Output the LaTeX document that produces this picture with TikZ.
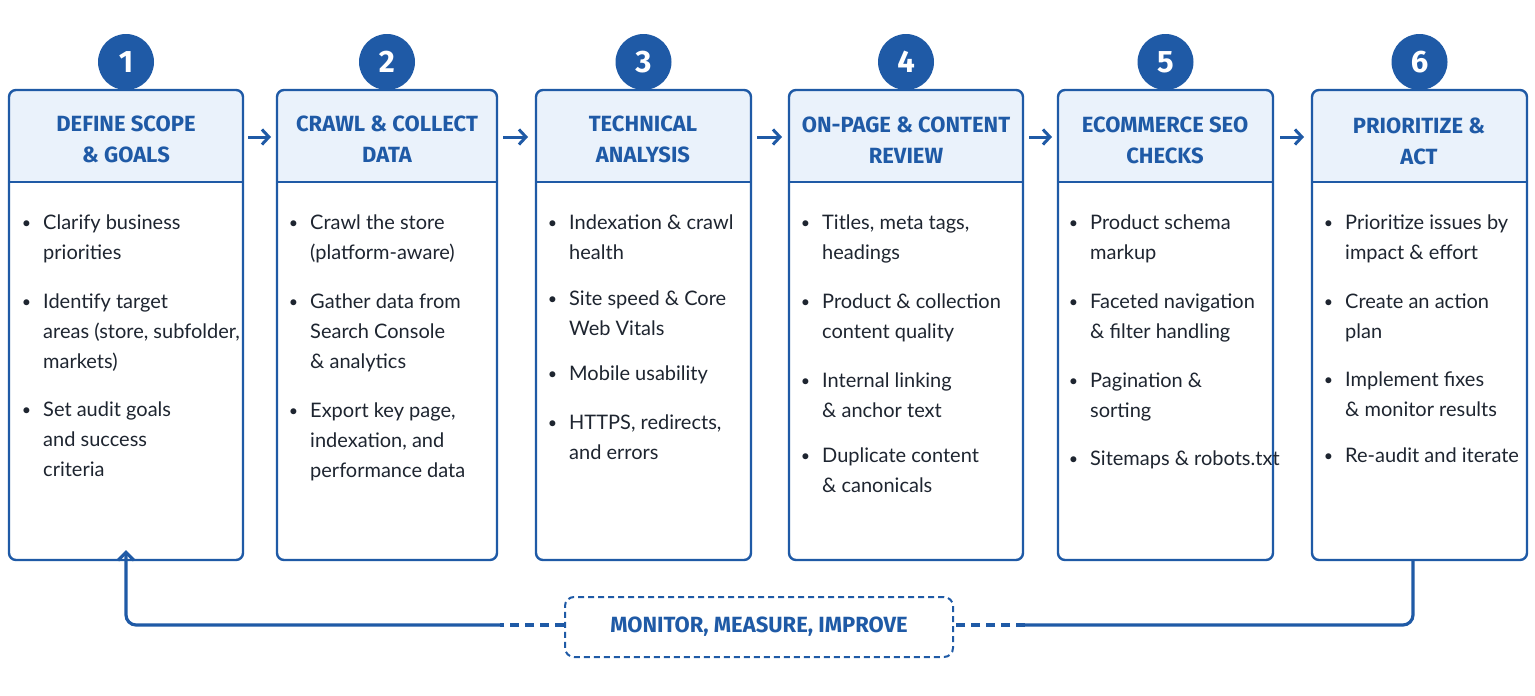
\documentclass[tikz,border=0pt]{standalone}
\usepackage{fontspec}
\setmainfont{Fira Sans}
\newfontfamily\bodyf{Lato}
\usetikzlibrary{arrows.meta,positioning}
\definecolor{db}{HTML}{1F5AA6}
\definecolor{lb}{HTML}{EAF2FB}
\definecolor{tx}{HTML}{1E2530}
\begin{document}
\begin{tikzpicture}[x=1pt,y=-1pt,
  card/.style={draw=db,line width=2.4pt,rounded corners=7pt},
  num/.style={circle,fill=db,minimum size=56pt,inner sep=0,text=white,font=\fontsize{31}{31}\selectfont\bfseries},
  head/.style={align=center,text=db,font=\fontsize{22}{31}\selectfont\bfseries},
  item/.style={anchor=north west,align=left,inner sep=0,text=tx,font=\bodyf\fontsize{20}{30}\selectfont},
  nx/.style={below=30pt of #1.south west,anchor=north west,item},
  flow/.style={draw=db,line width=3pt,-{Straight Barb[length=7pt,width=15pt]}},
  loop/.style={draw=db,line width=3.2pt}]
\useasboundingbox (0,0) rectangle (1535,696);
\fill[white] (0,0) rectangle (1535,696);
\def\bul{\makebox[0pt][r]{\raisebox{1pt}{\fontsize{16}{16}\selectfont\textbullet}\hspace{12pt}}}
\foreach \l/\r/\n in {9/243/1,277/497/2,536/751/3,789/1023/4,1058/1273/5,1312/1527/6}{
  \begin{scope}
  \clip[rounded corners=7pt] (\l,90) rectangle (\r,560);
  \fill[lb] (\l,90) rectangle (\r,182);
  \end{scope}
  \draw[card] (\l,90) rectangle (\r,560);
  \draw[db,line width=2pt] (\l,182) -- (\r,182);
  \node[num] (n\n) at ({(\l+\r)/2},62) {\n};
}
\coordinate (c1) at (126,560);
\coordinate (c6) at (1413,560);
\node[head] (h1) at (126,139) {DEFINE SCOPE\\\& GOALS};
\node[head] (h2) at (387,139) {CRAWL \& COLLECT\\DATA};
\node[head] (h3) at (643,139) {TECHNICAL\\ANALYSIS};
\node[head] (h4) at (906,140) {ON-PAGE \& CONTENT\\REVIEW};
\node[head] (h5) at (1165,140) {ECOMMERCE SEO\\CHECKS};
\node[head] (h6) at (1419,141) {PRIORITIZE \&\\ACT};
\coordinate (a1s) at (248,137); \coordinate (a1e) at (271,137);
\coordinate (a2s) at (503,137); \coordinate (a2e) at (528,137);
\coordinate (a3s) at (757,137); \coordinate (a3e) at (782,137);
\coordinate (a4s) at (1029,137); \coordinate (a4e) at (1052,137);
\coordinate (a5s) at (1280,137); \coordinate (a5e) at (1304,137);
\foreach \i in {1,...,5}{\draw[flow] (a\i s) -- (a\i e);}
\node[item] (i11) at (43,215) {\bul Clarify business\\priorities};
\node[nx=i11] (i12) {\bul Identify target\\areas (store, subfolder,\\markets)};
\node[nx=i12] (i13) {\bul Set audit goals\\and success\\criteria};
\node[item] (i21) at (310,215) {\bul Crawl the store\\(platform-aware)};
\node[nx=i21] (i22) {\bul Gather data from\\Search Console\\\& analytics};
\node[nx=i22] (i23) {\bul Export key page,\\indexation, and\\performance data};
\node[item] (i31) at (569,215) {\bul Indexation \& crawl\\health};
\node[nx=i31] (i32) {\bul Site speed \& Core\\Web Vitals};
\node[nx=i32] (i33) {\bul Mobile usability};
\node[nx=i33] (i34) {\bul HTTPS, redirects,\\and errors};
\node[item] (i41) at (822,215) {\bul Titles, meta tags,\\headings};
\node[nx=i41] (i42) {\bul Product \& collection\\content quality};
\node[nx=i42] (i43) {\bul Internal linking\\\& anchor text};
\node[nx=i43] (i44) {\bul Duplicate content\\\& canonicals};
\node[item] (i51) at (1090,215) {\bul Product schema\\markup};
\node[nx=i51] (i52) {\bul Faceted navigation\\\& filter handling};
\node[nx=i52] (i53) {\bul Pagination \&\\sorting};
\node[nx=i53] (i54) {\bul Sitemaps \& robots.txt};
\node[item] (i61) at (1345,215) {\bul Prioritize issues by\\impact \& effort};
\node[nx=i61] (i62) {\bul Create an action\\plan};
\node[nx=i62] (i63) {\bul Implement fixes\\\& monitor results};
\node[nx=i63] (i64) {\bul Re-audit and iterate};
\node[draw=db,dashed,dash pattern=on 6pt off 4pt,line width=2pt,rounded corners=9pt,minimum width=388pt,minimum height=60pt,text=db,font=\fontsize{22}{22}\selectfont\bfseries] (m) at (759,627) {MONITOR, MEASURE, IMPROVE};
\coordinate (r1) at (1025,625); \coordinate (l1) at (500,625);
\draw[loop,rounded corners=10pt] (c6) -- (1413,625) -- (r1);
\draw[loop,dash pattern=on 9pt off 6pt] (r1) -- (m.east|-r1);
\draw[loop,dash pattern=on 9pt off 6pt] (m.west|-l1) -- (l1);
\draw[loop,rounded corners=10pt,-{Straight Barb[length=8pt,width=16pt]}] (l1) -- (126,625) -- ([yshift=10pt]c1);
\end{tikzpicture}
\end{document}
